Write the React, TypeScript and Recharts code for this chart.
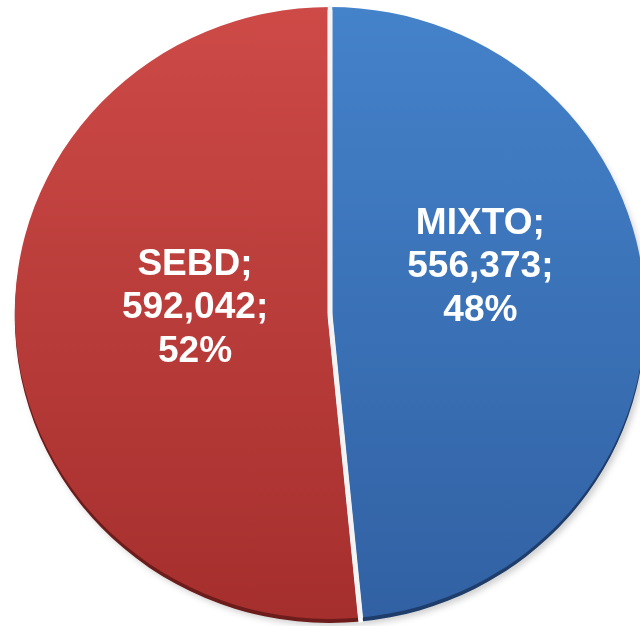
import { PieChart, Pie, Cell } from "recharts"

const categories = ["MIXTO", "SEBD"]
const values = [556373, 592042]

const data = categories.map((name, i) => ({ name, value: values[i] }))

const fills = ["url(#blueFill)", "url(#redFill)"]
const rims = ["#1f3d6b", "#6b1c1b"]

// where each label block sits, relative to the pie centre
const labelOffset: Record<string, { dx: number; dy: number }> = {
  MIXTO: { dx: 146, dy: -79 },
  SEBD: { dx: -131, dy: -38 },
}

const RADIAN = Math.PI / 180

// white separator along the start edge of each slice
function gapLine(props: any, color: string) {
  const { cx, cy, startAngle, outerRadius } = props
  const ex = cx + (outerRadius + 1) * Math.cos(-startAngle * RADIAN)
  const ey = cy + (outerRadius + 1) * Math.sin(-startAngle * RADIAN)
  return <line x1={cx} y1={cy} x2={ex} y2={ey} stroke={color} strokeWidth={4.5} />
}

function renderRimGap(props: any) {
  return gapLine(props, "#ffffff")
}

function renderLabel(props: any) {
  const { cx, cy, name, value, percent } = props
  const off = labelOffset[name]
  const x = cx + off.dx
  const y = cy + off.dy
  return (
    <g>
      {gapLine(props, "#f4f4f4")}
      <text
        x={x}
        y={y}
        fill="#ffffff"
        textAnchor="middle"
        style={{ fontFamily: "'Liberation Sans', Arial, sans-serif", fontSize: 36, fontWeight: 700 }}
      >
        <tspan x={x} dy={0}>{name};</tspan>
        <tspan x={x} dy={43.5}>{value.toLocaleString("en-US")};</tspan>
        <tspan x={x} dy={43.5}>{Math.round(percent * 100)}%</tspan>
      </text>
    </g>
  )
}

export default function App() {
  return (
    <div style={{ position: "absolute", left: 0, top: 0, width: 640, height: 626, overflow: "hidden", background: "#fff" }}>
      <div style={{ transform: "scaleX(1.03)", transformOrigin: "330px 313px" }}>
        <PieChart width={640} height={626} margin={{ top: 0, right: 0, bottom: 0, left: 0 }}>
          <defs>
            <linearGradient id="redFill" x1="0" y1="0" x2="0" y2="1">
              <stop offset="0%" stopColor="#cd4a47" />
              <stop offset="100%" stopColor="#a52f2d" />
            </linearGradient>
            <linearGradient id="blueFill" x1="0" y1="0" x2="0" y2="1">
              <stop offset="0%" stopColor="#4482ca" />
              <stop offset="100%" stopColor="#3161a3" />
            </linearGradient>
            <filter id="blurShadow" x="-10%" y="-10%" width="120%" height="120%">
              <feGaussianBlur stdDeviation="3" />
            </filter>
          </defs>
          <Pie
            data={data}
            dataKey="value"
            cx={333}
            cy={320}
            outerRadius={306}
            startAngle={90}
            endAngle={-270}
            stroke="none"
            fill="#a0a0a0"
            opacity={0.5}
            filter="url(#blurShadow)"
            isAnimationActive={false}
          />
          <Pie
            data={data}
            dataKey="value"
            cx={330}
            cy={317}
            outerRadius={306}
            startAngle={90}
            endAngle={-270}
            stroke="none"
            label={renderRimGap}
            labelLine={false}
            isAnimationActive={false}
          >
            {data.map((d, i) => (
              <Cell key={d.name} fill={rims[i]} />
            ))}
          </Pie>
          <Pie
            data={data}
            dataKey="value"
            cx={330}
            cy={313}
            outerRadius={306}
            startAngle={90}
            endAngle={-270}
            stroke="none"
            label={renderLabel}
            labelLine={false}
            isAnimationActive={false}
          >
            {data.map((d, i) => (
              <Cell key={d.name} fill={fills[i]} />
            ))}
          </Pie>
        </PieChart>
      </div>
    </div>
  )
}
